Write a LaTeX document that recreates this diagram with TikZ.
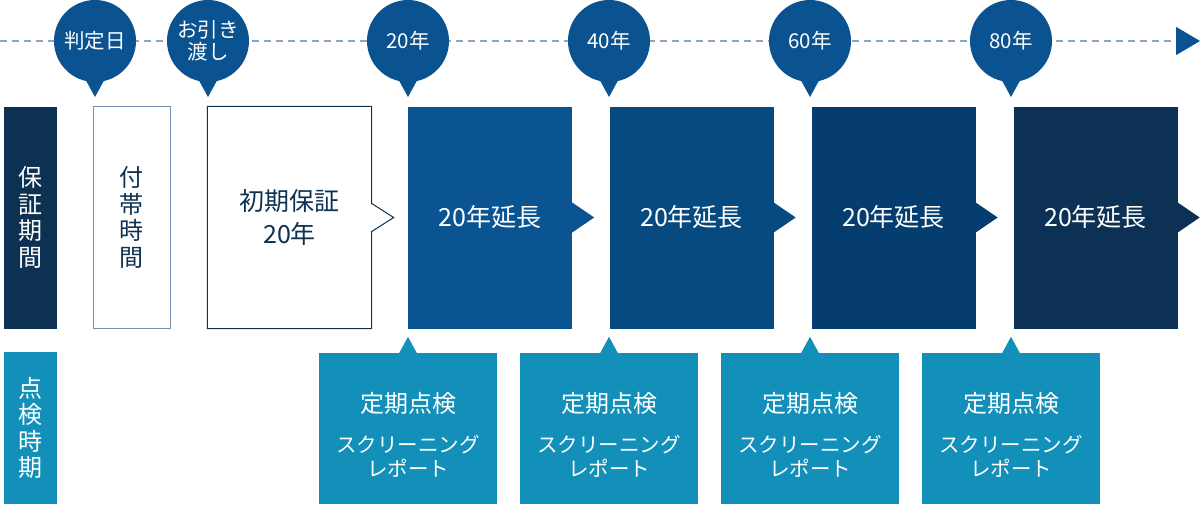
\documentclass[tikz,border=0pt]{standalone}
\usepackage{fontspec}
\setmainfont{Noto Sans CJK JP}
\usetikzlibrary{arrows.meta}
\usetikzlibrary{calc}

\definecolor{navy}{HTML}{0D3152}
\definecolor{pinblue}{HTML}{0B5390}
\definecolor{ext1}{HTML}{0A5591}
\definecolor{ext2}{HTML}{064A80}
\definecolor{ext3}{HTML}{053E6E}
\definecolor{ext4}{HTML}{0D3154}
\definecolor{checkteal}{HTML}{1390BA}
\definecolor{dashgray}{HTML}{8BA6C1}
\definecolor{thinline}{HTML}{7391AF}

\begin{document}
\begin{tikzpicture}
[x=1pt,y=-1pt,every node/.style={inner sep=0pt,font=\fontsize{25}{33}\selectfont},
pin/.style={circle,fill=pinblue,text=white,minimum size=82pt,align=center,font=\fontsize{20.5}{22}\selectfont},
term/.style={rectangle,minimum width=164pt,minimum height=222pt,text=white,align=center},
check/.style={rectangle,fill=checkteal,minimum width=178pt,minimum height=151pt},
checktext/.style={text=white,align=center,font=\fontsize{20.5}{24}\selectfont},
side/.style={rectangle,minimum width=53pt,text=white,align=center,font=\fontsize{24}{26.5}\selectfont}]

\useasboundingbox (0,0) rectangle (1200,504);

%timeline
\coordinate (t0) at (0,41);
\coordinate (t1) at (1200,41);
\draw[dashgray,line width=1.5pt,dash pattern=on 7pt off 5pt,-{Triangle[length=24pt,width=28pt,color=pinblue]}] (t0) -- (t1);

\node[pin] (p1) at (95,41) {判定日};
\node[pin] (p2) at (208,41) {お引き\\渡し};
\node[pin] (p3) at (408,41) {20年};
\node[pin] (p4) at (609,41) {40年};
\node[pin] (p5) at (810,41) {60年};
\node[pin] (p6) at (1011,41) {80年};

\foreach \p in {p1,p2,p3,p4,p5,p6}
\fill[pinblue] ($(\p.center)+(-12,34)$) -- ($(\p.center)+(0,56)$) -- ($(\p.center)+(12,34)$) -- cycle;

%guarantee row
\node[side,fill=navy,minimum height=222pt] (lbl1) at (30.5,217.5) {保\\証\\期\\間};
\node[term,draw=thinline,line width=1pt,minimum width=77pt,text=navy,font=\fontsize{24}{26.5}\selectfont] (b0) at (131.5,217.5) {付\\帯\\時\\間};

\node[term,text=navy] (b1) at (289.5,217.5) {初期保証\\20年};
\draw[navy,line width=1pt] (b1.north west) -- (b1.north east) -- ($(b1.east)+(0,-14)$) -- ($(b1.east)+(22,0)$) -- ($(b1.east)+(0,14)$) -- (b1.south east) -- (b1.south west) -- cycle;

\foreach \i/\x/\c in {2/490/ext1,3/691.5/ext2,4/893.5/ext3,5/1095.5/ext4}
{
\node[term,fill=\c] (b\i) at (\x,217.5) {20年延長};
\fill[\c] ($(b\i.east)+(0,-15)$) -- ($(b\i.east)+(22,0)$) -- ($(b\i.east)+(0,15)$) -- cycle;
}

%inspection row
\node[side,fill=checkteal,minimum height=152pt] (lbl2) at (30.5,428) {点\\検\\時\\期};

\foreach \i/\x in {1/408,2/609,3/810,4/1011}
{
\node[check] (c\i) at (\x,428.5) {};
\fill[checkteal] ($(c\i.north)+(-9,0.5)$) -- ($(c\i.north)+(0,-16)$) -- ($(c\i.north)+(9,0.5)$) -- cycle;
\node[checktext] (ct\i) at ($(c\i.center)+(0,6)$) {{\fontsize{24}{24}\selectfont 定期点検}\\[16pt]スクリーニング\\レポート};
}

\end{tikzpicture}
\end{document}
